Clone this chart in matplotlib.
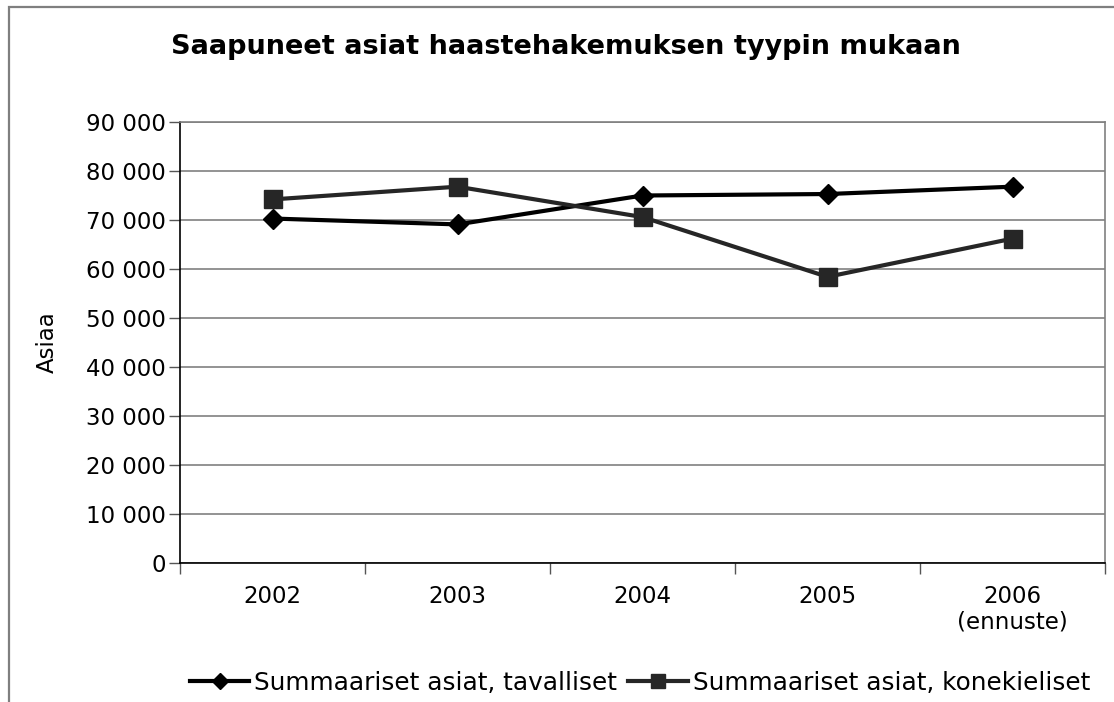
import matplotlib
matplotlib.use("Agg")
import matplotlib.pyplot as plt
from matplotlib.patches import Rectangle
from matplotlib.ticker import FuncFormatter, MultipleLocator, FixedLocator

categories = ["2002", "2003", "2004", "2005", "2006\n(ennuste)"]
tavalliset = [70300, 69100, 75000, 75300, 76800]
konekieliset = [74200, 76800, 70600, 58400, 66200]
title = "Saapuneet asiat haastehakemuksen tyypin mukaan"
ylabel = "Asiaa"
labels = ["Summaariset asiat, tavalliset", "Summaariset asiat, konekieliset"]

plt.rcParams['font.family'] = ['DejaVu Sans']
W, H = 1114, 702
fig = plt.figure(figsize=(W/100, H/100), dpi=100)
fig.patches.append(Rectangle((9/W, -0.1), 1.2, 1 - 7/H + 0.1, transform=fig.transFigure,
                             fill=False, edgecolor="#7f7f7f", linewidth=1.6))

L, R, T, B = 180, 1105, 122, 563
ax = fig.add_axes([L/W, 1 - B/H, (R-L)/W, (B-T)/H])
x = list(range(len(categories)))
ax.plot(x, tavalliset, color="black", lw=3, marker="D", ms=10, label=labels[0], zorder=3)
ax.plot(x, konekieliset, color="#262626", lw=3, marker="s", ms=12.5, label=labels[1], zorder=3)

ax.set_xlim(-0.5, len(categories) - 0.5)
ax.set_ylim(0, 90000)
ax.yaxis.set_major_locator(MultipleLocator(10000))
ax.yaxis.set_major_formatter(FuncFormatter(lambda v, p: f"{int(v):,}".replace(",", " ")))
ax.set_xticks(x)
ax.set_xticklabels(categories, linespacing=1.1)
ax.xaxis.set_minor_locator(FixedLocator([i - 0.5 for i in range(len(categories) + 1)]))
ax.tick_params(axis="x", which="major", length=0, pad=16, labelsize=16.5)
ax.tick_params(axis="x", which="minor", length=8, width=1, color="#555555")
ax.tick_params(axis="y", length=8, width=1, labelsize=16.5, pad=2, color="#555555")
for lab in ax.get_xticklabels():
    lab.set_verticalalignment("top")
ax.grid(axis="y", color="#808080", lw=1.2)
ax.set_axisbelow(True)
for s in ["top", "right"]:
    ax.spines[s].set_color("#808080")
    ax.spines[s].set_linewidth(1.2)
for s in ["left", "bottom"]:
    ax.spines[s].set_color("black")
    ax.spines[s].set_linewidth(1.2)

ax.set_ylabel(ylabel, fontsize=16.5, labelpad=20)
fig.text(566/W, 1 - 47/H, title, ha="center", va="center", fontsize=19.5, fontweight="bold")

leg = fig.legend(loc="center", bbox_to_anchor=(640/W, 1 - 683/H), ncol=2, frameon=False,
                 fontsize=17.8, handlelength=2.4, handletextpad=0.2, columnspacing=0.45,
                 markerscale=0.85, borderpad=0, borderaxespad=0)

fig.savefig("out.png", dpi=100)
